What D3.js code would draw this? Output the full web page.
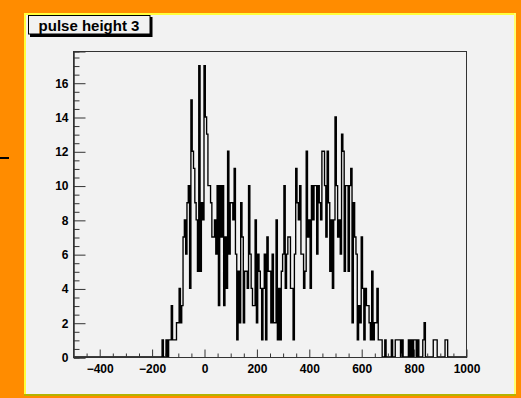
<!DOCTYPE html>
<html>
<head>
<meta charset="utf-8">
<script src="https://cdn.jsdelivr.net/npm/d3@7"></script>
<style>
  html, body { margin: 0; padding: 0; background: #ff8c00; }
  svg { display: block; }
  text { font-family: "Liberation Sans", Arial, Helvetica, sans-serif; font-weight: bold; }
</style>
</head>
<body>
<svg id="c" width="521" height="398"></svg>
<script>
// Histogram definition: 300 bins over [-500, 1000]
const nBins = 300;
const xMin = -500;
const xMax = 1000;
const yMax = 17.85;

// Bin contents, bin 0 .. bin 299
const counts = [
  0,0,0,0,0,0,0,0,0,0, 0,0,0,0,0,0,0,0,0,0,
  0,0,0,0,0,0,0,0,0,0, 0,0,0,0,0,0,0,0,0,0,
  0,0,0,0,0,0,0,0,0,0, 0,0,0,0,0,0,0,0,0,0,
  0,0,0,0,0,0,0,0,1,0, 0,1,0,1,1,3,1,1,1,2,
  2,4,2,3,7,8,6,9,10,4, 15,12,11,9,8,5,17,5,9,8,
  17,14,13,10,10,9,7,7,8,6, 10,3,10,7,10,3,7,4,12,6,
  9,9,8,11,6,1,5,2,9,7, 2,5,5,4,10,6,4,3,3,8,
  2,6,5,4,1,4,6,1,7,5, 5,2,6,2,2,8,1,4,1,5,
  6,10,4,6,7,7,4,4,1,6, 11,9,8,10,6,6,4,5,12,7,
  8,4,10,8,10,10,6,10,9,8, 12,12,10,7,12,9,5,8,4,8,
  14,10,7,8,6,13,12,5,10,10, 5,10,11,2,9,7,6,1,3,2,
  7,4,1,4,3,3,2,1,5,1, 2,2,4,1,1,1,0,0,1,0,
  0,0,0,1,0,0,1,1,1,1, 0,1,0,0,0,0,1,0,1,0,
  1,1,0,1,0,0,0,1,2,0, 0,0,0,0,0,1,1,1,0,0,
  0,0,0,0,1,1,0,0,0,0, 0,0,0,0,0,0,0,0,0,0
];

const xTicks = [-400, -200, 0, 200, 400, 600, 800, 1000];
const yTicks = [0, 2, 4, 6, 8, 10, 12, 14, 16];
const title = "pulse height 3";

const svg = d3.select("#c");

// Canvas and pad
svg.append("rect").attr("x", 0).attr("y", 0).attr("width", 521).attr("height", 398).attr("fill", "#ff8c00");
svg.append("rect").attr("x", 0).attr("y", 157).attr("width", 9).attr("height", 2).attr("fill", "#000");
svg.append("rect").attr("x", 24).attr("y", 13).attr("width", 492).attr("height", 383).attr("fill", "#f2f2f2");
// pad bevel
svg.append("rect").attr("x", 24).attr("y", 13).attr("width", 492).attr("height", 2).attr("fill", "#ffff3c");
svg.append("rect").attr("x", 24).attr("y", 13).attr("width", 2).attr("height", 383).attr("fill", "#ffff3c");
svg.append("rect").attr("x", 514).attr("y", 13).attr("width", 2).attr("height", 383).attr("fill", "#ffff70");
svg.append("rect").attr("x", 24).attr("y", 394).attr("width", 492).attr("height", 2).attr("fill", "#b4b400");

// Frame
const fx0 = 73, fx1 = 466, fy0 = 51, fy1 = 357;
const x = d3.scaleLinear().domain([xMin, xMax]).range([fx0, fx1]);
const y = d3.scaleLinear().domain([0, yMax]).range([fy1, fy0]);

// Histogram step line
const binW = (xMax - xMin) / nBins;
const pts = [[xMin, 0]];
counts.forEach((c, i) => {
  const lo = xMin + i * binW, hi = lo + binW;
  pts.push([lo, c], [hi, c]);
});
pts.push([xMax, 0]);
const line = d3.line().x(d => x(d[0])).y(d => y(d[1]));
svg.append("path")
  .attr("d", line(pts))
  .attr("fill", "none")
  .attr("stroke", "#000")
  .attr("stroke-width", 1.35);

svg.append("rect")
  .attr("x", fx0 + 0.5).attr("y", fy0 + 0.5)
  .attr("width", fx1 - fx0).attr("height", fy1 - fy0)
  .attr("fill", "none").attr("stroke", "#333").attr("stroke-width", 1);

// Axes (ticks pointing into the frame)
const xMinor = d3.range(-450, 1001, 50).filter(v => !xTicks.includes(v));
const yMinor = d3.range(0, 17.6, 0.5).filter(v => !yTicks.includes(v));

const gx = svg.append("g").attr("transform", `translate(0.5,${fy1 + 0.5})`);
gx.call(d3.axisBottom(x).tickValues(xTicks).tickSize(-8).tickPadding(7).tickFormat(d3.format("d")));
gx.append("g").call(d3.axisBottom(x).tickValues(xMinor).tickSize(-4).tickFormat(""));

const gy = svg.append("g").attr("transform", `translate(${fx0 + 0.5},0.5)`);
gy.call(d3.axisLeft(y).tickValues(yTicks).tickSize(-12).tickPadding(5).tickFormat(d3.format("d")));
gy.append("g").call(d3.axisLeft(y).tickValues(yMinor).tickSize(-6).tickFormat(""));

svg.selectAll(".domain").attr("stroke", "#333");
svg.selectAll(".tick line").attr("stroke", "#333");
svg.selectAll(".tick text")
  .attr("fill", "#000")
  .style("font-size", "12px")
  .style("font-weight", "bold")
  .style("font-family", "'Liberation Sans', Arial, sans-serif");
gx.selectAll(".domain").attr("d", `M${fx0},0H${fx1}`);

// Title box
svg.append("rect").attr("x", 30).attr("y", 34).attr("width", 122).attr("height", 3).attr("fill", "#000");
svg.append("rect").attr("x", 150).attr("y", 17).attr("width", 2.5).attr("height", 20).attr("fill", "#000");
svg.append("rect").attr("x", 28.5).attr("y", 15.5).attr("width", 121.5).attr("height", 18.5)
  .attr("fill", "#f2f2f2").attr("stroke", "#000").attr("stroke-width", 1);
svg.append("text").attr("x", 89).attr("y", 30.5).attr("text-anchor", "middle")
  .style("font-size", "15px").text(title);
</script>
</body>
</html>
